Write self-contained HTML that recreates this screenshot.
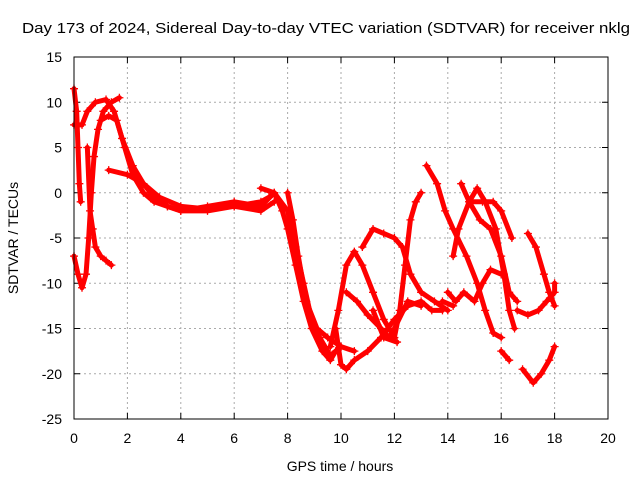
<!DOCTYPE html>
<html><head><meta charset="utf-8"><style>
body{margin:0;background:#fff}
svg text{font-family:"Liberation Sans",sans-serif;font-size:14px;fill:#000}
</style></head><body>
<svg id="chart" width="640" height="480" xmlns="http://www.w3.org/2000/svg">
<rect width="640" height="480" fill="#fff"/>
<text x="326" y="33" text-anchor="middle" textLength="608" lengthAdjust="spacingAndGlyphs" style="font-size:15px">Day 173 of 2024, Sidereal Day-to-day VTEC variation (SDTVAR) for receiver nklg</text>
<text x="340" y="471" text-anchor="middle">GPS time / hours</text>
<text transform="translate(18,238) rotate(-90)" text-anchor="middle">SDTVAR / TECUs</text>
<g id="grid"></g><g id="marks"></g>
<rect x="74" y="57" width="534" height="362" fill="none" stroke="#000" stroke-width="1"/>
</svg>
<script>
const xTicks=[0,2,4,6,8,10,12,14,16,18,20];
const yTicks=[15,10,5,0,-5,-10,-15,-20,-25];
const tracks=[
[[0,11.5],[0.1,9],[0.15,5],[0.2,1],[0.25,-1]],
[[0,-7],[0.15,-9],[0.3,-10.5],[0.45,-9],[0.55,-5],[0.65,0],[0.75,4],[0.9,7],[1.1,9],[1.4,10],[1.7,10.5]],
[[0,7.5],[0.3,7.5],[0.5,9],[0.8,10],[1.2,10.3],[1.5,9],[1.8,6],[2.2,3],[2.6,1],[3,-0.5],[3.5,-1.5],[4,-2],[5,-2],[6,-1.5],[7,-1],[7.3,-0.5]],
[[0.5,5],[0.6,-2],[0.7,-4],[0.8,-6],[1,-7],[1.2,-7.5],[1.4,-8]],
[[1,8],[1.3,8.5],[1.6,8],[1.9,5],[2.2,2],[2.6,0],[3,-1],[3.5,-1.5],[4,-2],[5,-1.5],[6,-1],[7,-1.5],[7.5,0],[8,-2],[8.3,-6],[8.6,-10],[8.9,-14],[9.2,-16],[9.6,-18],[10,-17]],
[[1.3,2.5],[2,2],[2.6,1],[3.2,-0.5],[4,-1.5],[5,-1.8],[6,-1.5],[7,-2],[7.5,-1]],
[[7,0.5],[7.5,0],[7.8,-2],[8,-4],[8.3,-8],[8.6,-12],[8.9,-15],[9.3,-17.5],[9.6,-18.5],[9.8,-17.5],[10,-17]],
[[8,0],[8.2,-3],[8.4,-7],[8.7,-12],[9.1,-15],[9.5,-16],[10,-17],[10.5,-17.5]],
[[9.6,-17],[9.9,-13],[10.2,-8],[10.5,-6.5],[10.8,-8],[11.2,-11],[11.6,-14],[12,-16],[12.2,-13],[12.4,-8],[12.6,-3],[12.8,-1],[13,0]],
[[9.8,-15],[10,-19],[10.2,-19.5],[10.5,-18.5],[11,-17.5],[11.5,-16],[12,-14],[12.5,-12.5],[13,-12],[13.4,-13],[13.8,-13]],
[[10.8,-6],[11.2,-4],[11.6,-4.5],[12,-5],[12.3,-6],[12.6,-9],[13,-11],[13.5,-12],[14,-13]],
[[10.2,-11],[10.6,-12],[11,-13.5],[11.5,-15],[11.8,-16],[12,-15],[12.5,-12],[13,-12.5]],
[[11.2,-13],[11.6,-16],[12.1,-16.5]],
[[13.2,3],[13.6,1],[13.9,-2],[14.2,-4],[14.7,-7],[15.1,-10],[15.4,-13],[15.7,-15.5],[16,-16]],
[[14.2,-7],[14.4,-4],[14.8,-1],[15.1,0.5],[15.4,-1],[15.8,-4],[16.1,-9],[16.3,-13],[16.5,-15]],
[[14.5,1],[14.8,-1],[15.2,-3],[15.6,-4],[16,-7],[16.3,-11],[16.6,-12]],
[[14.9,-1],[15.3,-1],[15.7,-1],[16,-2],[16.4,-5]],
[[14,-11],[14.3,-12],[14.6,-11],[15,-12],[15.3,-10],[15.6,-8.5],[16,-9]],
[[13.8,-12],[14.2,-12.5]],
[[16,-17.5],[16.3,-18.5]],
[[16.6,-13],[17,-13.5],[17.4,-13],[17.7,-12],[18,-11],[18,-10]],
[[16.8,-19.5],[17.2,-21],[17.5,-20],[17.8,-18.5],[18,-17]],
[[17,-4.5],[17.3,-6],[17.6,-9],[17.8,-11],[18,-12.5]]
];
const X0=74,X1=608,Y0=419,Y1=57;
const xs=v=>X0+(v-0)/(20-0)*(X1-X0);
const ys=v=>Y0-(v+25)/(40)*(Y0-Y1);
const NS="http://www.w3.org/2000/svg";
const grid=document.getElementById('grid'),marks=document.getElementById('marks');
function mk(t,a,p){const e=document.createElementNS(NS,t);for(const k in a)e.setAttribute(k,a[k]);p.appendChild(e);return e;}
xTicks.forEach(v=>{const x=xs(v);
 const g=mk('line',{x1:x,x2:x,y1:Y0,y2:Y1,stroke:'#aaa','stroke-dasharray':'2,3'},grid);
 
 
 mk('line',{x1:x,x2:x,y1:Y0,y2:Y0-6,stroke:'#000'},grid);mk('line',{x1:x,x2:x,y1:Y1,y2:Y1+6,stroke:'#000'},grid);
 const t=mk('text',{x:x,y:Y0+24,'text-anchor':'middle'},grid);t.textContent=v;
 
 });
yTicks.forEach(v=>{const y=ys(v);
 const g=mk('line',{x1:X0,x2:X1,y1:y,y2:y,stroke:'#aaa','stroke-dasharray':'2,3'},grid);
 
 
 mk('line',{x1:X0,x2:X0+6,y1:y,y2:y,stroke:'#000'},grid);mk('line',{x1:X1,x2:X1-6,y1:y,y2:y,stroke:'#000'},grid);
 const t=mk('text',{x:X0-12,y:y+5,'text-anchor':'end'},grid);t.textContent=v;
 
 });
tracks.forEach(tr=>{
 const pl=mk('polyline',{points:tr.map(p=>xs(p[0])+','+ys(p[1])).join(' '),fill:'none',stroke:'#f00','stroke-width':5,'stroke-linejoin':'round','stroke-linecap':'round'},marks);
 
 
 tr.forEach(p=>{const x=xs(p[0]),y=ys(p[1]);
  const m=mk('path',{d:`M${x-4} ${y}H${x+4}M${x} ${y-4}V${y+4}`,stroke:'#f00','stroke-width':1.3},marks);
  
  });
});
</script>
</body></html>
